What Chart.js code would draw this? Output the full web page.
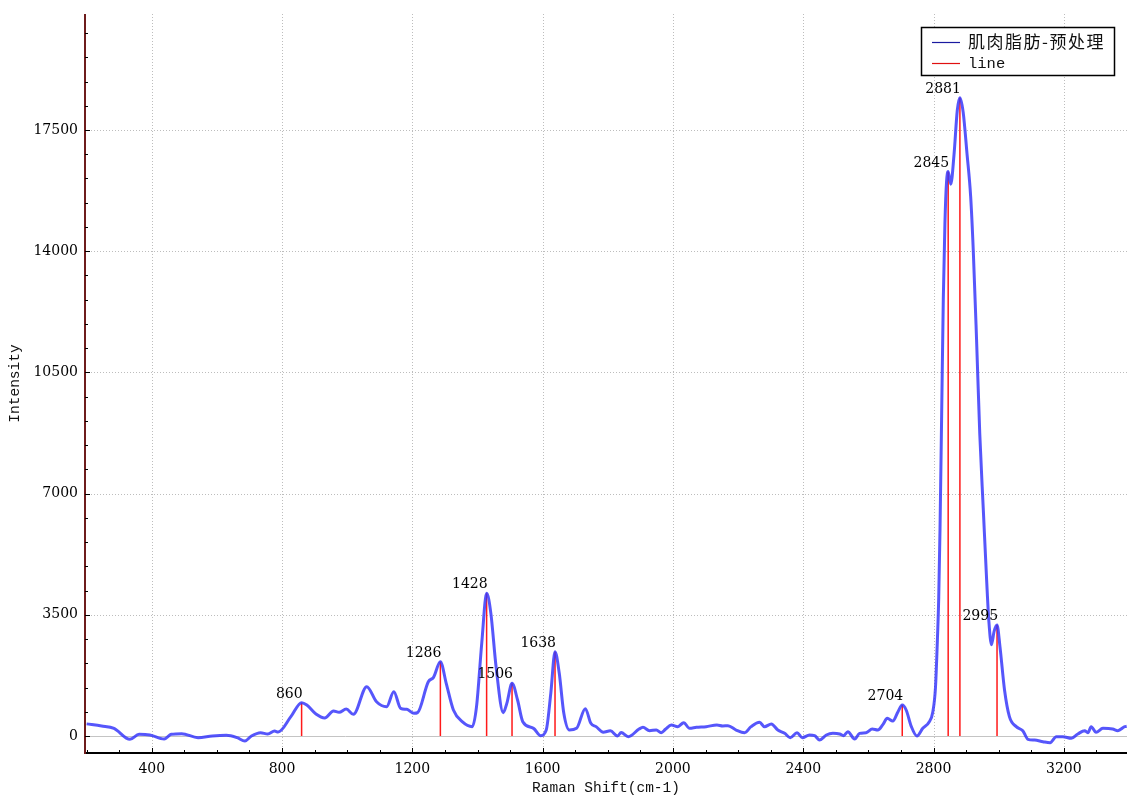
<!DOCTYPE html>
<html><head><meta charset="utf-8">
<script src="https://cdn.jsdelivr.net/npm/chart.js@4.4.0/dist/chart.umd.min.js"></script>
<style>html,body{margin:0;padding:0;background:#fff;}canvas{display:block;}</style>
</head><body>
<canvas id="c" width="1141" height="802"></canvas>
<script>
const ramanShift = [200,246,284,333,361,394,438,460,492,542,586,629,662,686,706,734,756,777,788,827,860,876,904,931,958,975,997,1019,1060,1090,1121,1143,1164,1183,1205,1216,1249,1265,1286,1304,1326,1353,1384,1397,1413,1428,1441,1457,1479,1490,1506,1523,1539,1572,1594,1611,1625,1638,1651,1665,1682,1704,1731,1748,1764,1786,1808,1830,1841,1863,1896,1908,1928,1949,1964,1977,1995,2015,2033,2051,2072,2102,2135,2153,2169,2194,2220,2240,2266,2281,2302,2322,2343,2360,2381,2397,2419,2435,2450,2471,2491,2512,2524,2537,2558,2573,2593,2612,2629,2645,2658,2675,2691,2704,2716,2732,2749,2767,2786,2798,2806,2812,2816,2820,2825,2830,2835,2840,2845,2853,2863,2873,2881,2891,2903,2914,2922,2932,2942,2953,2963,2970,2978,2986,2995,3004,3018,3033,3054,3074,3090,3110,3136,3158,3177,3197,3223,3243,3264,3274,3284,3299,3320,3350,3366,3387,3393];
const intensity = [350,290,220,-96,48,29,-87,48,67,-48,0,19,-48,-144,0,96,58,144,115,558,963,895,635,520,722,683,780,626,1425,991,847,1280,799,770,655,674,1569,1694,2147,1521,751,414,270,847,2676,4120,3542,2002,674,943,1521,1040,414,221,10,173,1232,2435,1810,655,173,221,790,366,270,110,150,0,100,-19,200,250,154,173,96,193,318,270,385,221,250,270,318,289,298,173,96,270,395,270,346,173,77,-48,96,-48,29,10,-116,29,77,58,10,125,-87,77,96,202,173,337,510,433,703,895,751,270,0,221,395,703,1400,2800,4000,6000,9300,12600,14800,16000,16300,15935,16798,18071,18435,18016,16798,15582,14032,11487,8721,6509,4516,3301,2637,3023,3205,2580,1328,558,270,154,-96,-116,-164,-193,-19,-19,-67,58,154,96,270,106,221,202,154,270,280];
const peakShift = [860,1286,1428,1506,1638,2704,2845,2881,2995];
const peakIntensity = [963,2147,4120,1521,2435,895,16300,18435,3205];
const xTickValues = [400,800,1200,1600,2000,2400,2800,3200];
const yTickValues = [0,3500,7000,10500,14000,17500];
const seriesNames = ['肌肉脂肪-预处理','line'];
const xTitle = 'Raman Shift(cm-1)';
const yTitle = 'Intensity';

const spectrum = ramanShift.map((x,i)=>({x:x, y:intensity[i]}));
const stems = [];
peakShift.forEach((x,i)=>{ stems.push({x:x,y:0},{x:x,y:peakIntensity[i]},{x:x,y:null}); });

function seg(ctx,x1,y1,x2,y2){ctx.beginPath();ctx.moveTo(x1,y1);ctx.lineTo(x2,y2);ctx.stroke();}

const decor = {
  id:'decor',
  beforeDatasetsDraw(chart){
    const {ctx, chartArea:a, scales:{x,y}} = chart;
    ctx.save();
    ctx.lineWidth=1; ctx.strokeStyle='#bdbdbd'; ctx.setLineDash([1,2]);
    xTickValues.forEach(v=>{const px=Math.round(x.getPixelForValue(v))+0.5; seg(ctx,px,a.top,px,a.bottom);});
    yTickValues.filter(v=>v!==0).forEach(v=>{const py=Math.round(y.getPixelForValue(v))+0.5; seg(ctx,a.left,py,a.right,py);});
    ctx.setLineDash([]);
    ctx.strokeStyle='#c4c4c4';
    const z=Math.round(y.getPixelForValue(0))+0.5; seg(ctx,a.left,z,a.right,z);
    ctx.restore();
  },
  afterDatasetsDraw(chart){
    const {ctx, chartArea:a, scales:{x,y}} = chart;
    ctx.save();
    // peak labels
    ctx.fillStyle='#000'; ctx.font='14px "DejaVu Serif"'; ctx.textAlign='right'; ctx.textBaseline='alphabetic';
    peakShift.forEach((v,i)=>{
      const px=x.getPixelForValue(v), py=y.getPixelForValue(peakIntensity[i]);
      ctx.fillText(String(v), px+1, py-5);
    });
    // axes
    ctx.lineWidth=2;
    ctx.strokeStyle='#000'; seg(ctx,a.left-1,a.bottom,a.right,a.bottom);
    ctx.strokeStyle='#6e1c1c'; seg(ctx,a.left,a.top,a.left,a.bottom+1);
    ctx.strokeStyle='#000'; ctx.lineWidth=1;
    for(let v=200; v<=3393; v+=100){
      const px=Math.round(x.getPixelForValue(v))+0.5;
      const len = (v%400===0)?5:3;
      seg(ctx,px,a.bottom,px,a.bottom-len);
    }
    for(let v=0; v<=20850; v+=700){
      const py=Math.round(y.getPixelForValue(v))+0.5;
      const len = (v%3500===0)?5:3;
      seg(ctx,a.left,py,a.left+len,py);
    }
    // legend
    ctx.fillStyle='#fff'; ctx.fillRect(921,27,194,49);
    ctx.strokeStyle='#000'; ctx.lineWidth=1.5; ctx.strokeRect(921.5,27.5,193,48);
    ctx.lineWidth=1.2;
    ctx.strokeStyle='#1a1aa0'; seg(ctx,932,42.5,960,42.5);
    ctx.strokeStyle='#e01010'; seg(ctx,932,63.5,960,63.5);
    ctx.fillStyle='#111'; ctx.textAlign='left'; ctx.textBaseline='middle';
    ctx.font='17px "Noto Sans CJK SC"';
    try{ctx.letterSpacing='1.5px';}catch(e){}
    ctx.fillText(seriesNames[0], 968, 42);
    try{ctx.letterSpacing='0px';}catch(e){}
    ctx.font='15.5px "Liberation Mono"';
    ctx.fillText(seriesNames[1], 968, 64);
    ctx.restore();
  }
};

new Chart(document.getElementById('c'), {
  type:'line',
  data:{datasets:[
    {label:seriesNames[0], data:spectrum, borderColor:'rgba(52,52,250,0.83)', borderWidth:3, pointRadius:0, cubicInterpolationMode:'monotone', fill:false},
    {label:seriesNames[1], data:stems, borderColor:'#ff1a1a', borderWidth:1.5, pointRadius:0, tension:0, spanGaps:false, fill:false}
  ]},
  options:{
    responsive:false, animation:false, events:[],
    layout:{padding:{left:0, top:14, right:14, bottom:0}},
    plugins:{legend:{display:false}, tooltip:{enabled:false}},
    scales:{
      x:{type:'linear', min:195, max:3394,
        afterBuildTicks(s){ s.ticks = xTickValues.map(v=>({value:v})); },
        afterFit(s){ s.height = 49; },
        grid:{display:false}, border:{display:false},
        ticks:{padding:0, maxRotation:0, autoSkip:false, color:'#000', font:{family:'DejaVu Serif', size:14}, callback:v=>String(v)},
        title:{display:true, text:xTitle, color:'#111', font:{family:'Liberation Mono', size:14.5}, padding:{top:0,bottom:5}}
      },
      y:{type:'linear', min:-491, max:20850,
        afterBuildTicks(s){ s.ticks = yTickValues.map(v=>({value:v})); },
        afterFit(s){ s.width = 85; },
        grid:{display:false}, border:{display:false},
        ticks:{padding:-1, color:'#000', font:{family:'DejaVu Serif', size:14}, callback:v=>String(v)},
        title:{display:true, text:yTitle, color:'#111', font:{family:'Liberation Mono', size:14.5}, padding:{top:6,bottom:0}}
      }
    }
  },
  plugins:[decor]
});
</script>
</body></html>
